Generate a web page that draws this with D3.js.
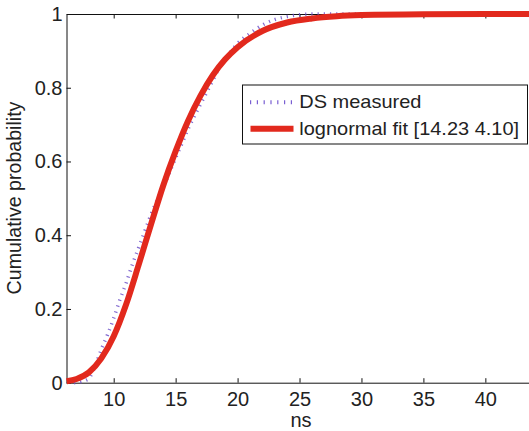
<!DOCTYPE html>
<html lang="en">
<head>
<meta charset="UTF-8">
<title>Cumulative probability</title>
<script src="https://d3js.org/d3.v7.min.js"></script>
<style>
  body { margin: 0; background: #fff; }
  svg text { font-family: "Liberation Sans", Arial, Helvetica, sans-serif; fill: #222; }
</style>
</head>
<body>
<script>
// chart size
var w = 529, h = 431;

// measured delay spread CDF
var measuredX = [6.8, 7.5, 8, 8.5, 9, 9.5, 10, 10.5, 11, 11.5, 12, 12.5, 13, 13.5, 14, 14.5, 15, 15.5, 16, 16.5, 17, 17.5, 18, 18.5, 19, 19.5, 20, 21, 22, 23, 24, 25, 26, 44];
var measuredY = [0, 0.004, 0.012, 0.045, 0.09, 0.13, 0.175, 0.225, 0.27, 0.32, 0.365, 0.41, 0.455, 0.495, 0.53, 0.57, 0.61, 0.648, 0.688, 0.722, 0.755, 0.787, 0.82, 0.853, 0.878, 0.9, 0.92, 0.947, 0.97, 0.985, 0.993, 0.998, 1, 1];

// lognormal fit curve
var fitX = [6.2, 7, 8, 9, 10, 11, 12, 13, 14, 15, 16, 17, 18, 19, 20, 22, 24, 26, 28, 30, 35, 40, 44];
var fitY = [0.004, 0.01, 0.028, 0.066, 0.126, 0.212, 0.318, 0.428, 0.535, 0.628, 0.71, 0.778, 0.834, 0.877, 0.91, 0.954, 0.977, 0.988, 0.994, 0.997, 0.9995, 1, 1];

var xTicks = [10, 15, 20, 25, 30, 35, 40];
var yTicks = [0, 0.2, 0.4, 0.6, 0.8, 1];
var legendLabels = ["DS measured", "lognormal fit [14.23 4.10]"];

var svg = d3.select("body")
            .append("svg")
            .attr("width", w)
            .attr("height", h);

// scales - the right border of the box sits just outside the picture
var x = d3.scaleLinear().domain([6.19, 44]).range([66.5, 534.9]);
var y = d3.scaleLinear().domain([0, 1]).range([382.7, 14]);

// axes, matlab style ticks pointing inwards
svg.append("g")
    .attr("transform", "translate(0," + y(0) + ")")
    .call(d3.axisBottom(x).tickValues(xTicks).tickSizeInner(-4.5).tickSizeOuter(0).tickPadding(9));
svg.append("g")
    .attr("transform", "translate(0," + y(1) + ")")
    .call(d3.axisTop(x).tickValues(xTicks).tickSizeInner(-4.5).tickSizeOuter(0).tickFormat(""));
svg.append("g")
    .attr("transform", "translate(" + x.range()[0] + ",0)")
    .call(d3.axisLeft(y).tickValues(yTicks).tickSizeInner(-4.5).tickSizeOuter(0).tickPadding(4)
          .tickFormat(function(d) { return String(d); }));

svg.selectAll(".domain, .tick line").attr("stroke", "#111").attr("stroke-width", 1);
svg.selectAll(".tick text").style("font-size", "20px").attr("fill", "#222");

// axis labels
svg.append("text")
    .attr("x", 301)
    .attr("y", 427)
    .attr("text-anchor", "middle")
    .style("font-size", "20px")
    .text("ns");

svg.append("text")
    .attr("transform", "translate(21,198) rotate(-90)")
    .attr("text-anchor", "middle")
    .style("font-size", "19.6px")
    .text("Cumulative probability");

// lines
var line = d3.line()
    .x(function(d) { return x(d[0]); })
    .y(function(d) { return y(d[1]); })
    .curve(d3.curveMonotoneX);

var measured = measuredX.map(function(d, i) { return [d, measuredY[i]]; });
var fit = fitX.map(function(d, i) { return [d, fitY[i]]; });

svg.append("path")
    .datum(measured)
    .attr("d", line)
    .attr("fill", "none")
    .attr("stroke", "#6e52c8")
    .attr("stroke-width", 3.5)
    .attr("stroke-dasharray", "1.2,5")
    .attr("opacity", 0.85);

svg.append("path")
    .datum(fit)
    .attr("d", line)
    .attr("fill", "none")
    .attr("stroke", "#e2291d")
    .attr("stroke-width", 6);

// legend
var legend = svg.append("g");
legend.append("rect")
    .attr("x", 242.5)
    .attr("y", 85)
    .attr("width", 285)
    .attr("height", 59)
    .attr("fill", "#fff")
    .attr("stroke", "#111")
    .attr("stroke-width", 1);

legend.append("line")
    .attr("x1", 250).attr("x2", 292)
    .attr("y1", 102.3).attr("y2", 102.3)
    .attr("stroke", "#7a5fd2")
    .attr("stroke-width", 4)
    .attr("stroke-dasharray", "1.2,5.6");

legend.append("line")
    .attr("x1", 250.5).attr("x2", 293.5)
    .attr("y1", 128.7).attr("y2", 128.7)
    .attr("stroke", "#e2291d")
    .attr("stroke-width", 6);

// text in the reference is a little wider than Liberation Sans
legend.selectAll("text.lab")
    .data(legendLabels)
    .enter()
    .append("text")
    .attr("class", "lab")
    .attr("transform", function(d, i) { return "translate(299.3," + (108.3 + i * 26.7) + ") scale(1.11,1)"; })
    .style("font-size", "18px")
    .text(function(d) { return d; });
</script>
</body>
</html>
